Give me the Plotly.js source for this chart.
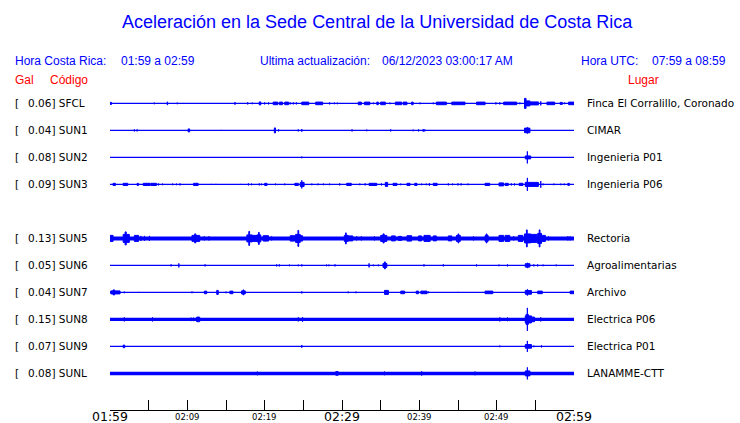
<!DOCTYPE html>
<html><head><meta charset="utf-8">
<script src="https://cdn.plot.ly/plotly-3.0.1.min.js"></script>
<style>html,body{margin:0;padding:0;background:#fff}#chart{width:740px;height:423px}</style>
</head><body><div id="chart"></div>
<script>
// ---- data ----
const codes   = ['SFCL','SUN1','SUN2','SUN3',null,'SUN5','SUN6','SUN7','SUN8','SUN9','SUNL'];
const peakGal = [0.06, 0.04, 0.08, 0.09, null, 0.13, 0.05, 0.04, 0.15, 0.07, 0.08];
const places  = ['Finca El Corralillo, Coronado','CIMAR','Ingenieria P01','Ingenieria P06',null,
                 'Rectoria','Agroalimentarias','Archivo','Electrica P06','Electrica P01','LANAMME-CTT'];
const noiseLevel = [1.2, 1.2, 1.4, 1.2, null, 4.0, 1.2, 1.2, 3.3, 1.2, 3.5];   // background amplitude (band)
const tickMinutes = [0,10,20,30,40,50,60];
const tickLabels  = ['01:59','02:09','02:19','02:29','02:39','02:49','02:59'];
const majorTick   = [true,false,false,true,false,false,true];

// bursts: [start minute, end minute, half amplitude]
const bursts_SFCL = [[0,0.2,1.5],[5.73,5.73,1.3],[7.4,7.45,2],[8.7,8.7,1.3],[16.16,16.16,1.8],[17.8,17.8,1.5],[18.4,18.4,1.3],
 [19.3,19.5,2],[20.0,20.0,1.5],[20.5,20.5,1.5],[21.1,21.7,1.8],[21.9,22.3,1.8],[22.6,23.1,1.8],[23.3,23.3,1.5],[23.7,23.7,1.5],
 [24.1,24.1,1.5],[24.8,25.7,1.8],[26.6,27.5,1.8],[28.4,28.4,1.5],[29.0,29.0,1.3],[29.4,29.4,1.3],[32.1,32.5,1.8],[32.9,33.6,1.8],
 [34.05,34.05,1.3],[34.5,34.7,1.8],[35.0,35.6,1.8],[36.2,36.2,1.3],[36.9,37.7,1.8],[37.9,38.4,1.8],[39.0,39.2,1.8],[40.1,40.1,1.3],
 [41.8,41.8,1.3],[42.2,43.5,1.8],[44.2,45.9,1.8],[47.4,48.5,1.8],[49.9,49.9,1.5],[50.4,50.4,1.5],[50.9,52.6,1.8],[53.0,53.0,1.3],
 [53.6,53.8,5.5],[53.8,54.3,3],[54.3,55.4,2],[55.7,55.7,2.5],[56.5,57.5,1.8],[58.2,58.5,1.5],[58.8,58.8,1.3],[59.3,60,1.8]];
const bursts_SUN1 = [[3.15,3.15,1.5],[3.5,3.5,1.5],[10.1,10.3,2],[14.35,14.35,1],[21.25,21.4,3],[21.8,21.8,1.5],[24.35,24.35,1.5],
 [24.8,24.8,1.8],[31.3,31.3,1.5],[33.2,33.2,1.3],[36.3,36.3,1.5],[39.2,39.2,1.3],[39.9,39.9,1.5],[40.5,40.5,1.8],[40.7,40.7,1.5],
 [53.6,54.3,2.8],[53.95,54.0,3.5]];
const bursts_SUN2 = [[24.8,24.8,1.3],[53.7,54.4,2],[53.97,53.97,6.5]];
const bursts_SUN3 = [[0.4,0.7,1.6],[1.7,2.3,1.6],[3.5,3.7,1.5],[4.3,5.2,1.6],[5.3,6.0,1.6],[6.25,6.25,1.5],[6.8,6.8,1.3],[8.1,8.1,1.3],
 [8.6,8.6,1.3],[9.05,9.05,1.5],[10.8,11.4,1.6],[13.1,13.1,1],[13.7,13.7,1],[16.9,16.9,1],[17.9,17.9,1.5],[18.3,18.3,1.3],[19.3,19.3,1.5],
 [19.6,19.6,1.3],[20.0,20.3,1.6],[21.4,21.4,1.3],[22.6,22.6,1.3],[23.9,24.35,1.6],[24.6,25.1,2.5],[24.8,24.8,4.5],[26.1,26.1,1.3],
 [26.9,26.9,1.3],[27.6,27.6,1.3],[28.4,28.4,1.3],[29.7,29.7,1.5],[30.6,31.2,1.6],[32.3,32.3,1.3],[33.0,33.0,1.5],[33.5,34.5,1.6],
 [35.1,35.1,1.5],[35.6,35.9,2.5],[36.6,37.1,1.6],[37.6,37.6,1.3],[38.4,38.8,1.6],[39.4,39.7,1.6],[40.3,40.3,1.3],[40.9,40.9,1.3],
 [41.3,41.3,1.8],[41.8,42.3,1.6],[43.75,43.75,1.5],[44.3,44.3,1.3],[45.0,45.0,1.5],[45.4,45.4,1.5],[46.3,46.3,1.3],[48.5,49.1,1.6],
 [50.3,50.9,2],[51.1,51.5,1.6],[51.9,51.9,1.5],[52.3,52.3,1.5],[52.9,53.4,1.6],[53.7,55.4,2.5],[53.97,53.97,7],[55.7,55.7,3.8],
 [56.0,56.0,1.3],[57.4,57.4,1.3],[58.3,58.3,1.3],[58.75,58.75,1.3],[59.2,59.4,1.5]];
const bursts_SUN5 = [[0,0.4,3.5],[1.7,2.5,4.5],[1.95,2.1,7],[3.15,3.7,3.5],[4.0,4.0,3],[4.45,4.45,3],[5.1,5.1,3],[10.6,11.6,3.5],
 [10.95,11.1,5],[12.2,12.2,2.5],[12.8,12.8,2.5],[17.7,18.4,4],[17.95,18.05,7.5],[18.4,19.0,3.5],[19.0,19.5,4],[19.2,19.3,6.5],
 [19.8,20.5,3.2],[20.9,20.9,2.5],[23.3,23.9,3.2],[24.0,24.6,4.5],[24.3,24.4,8.5],[24.6,24.9,3.2],[30.3,30.8,3.5],[30.45,30.55,6],
 [30.8,31.4,3],[31.9,31.9,2.5],[32.5,32.5,2.5],[34.2,34.2,2.5],[35.0,35.8,3.5],[35.3,35.45,5],[36.4,36.9,3],[37.3,37.7,2.5],
 [38.4,39.0,3.2],[39.9,40.3,3],[40.6,41.4,3.5],[41.8,42.2,3],[43.75,44.2,3],[44.8,45.3,3.5],[45.0,45.1,5],[47.0,47.0,2.5],
 [48.5,48.9,3.5],[48.65,48.75,5],[50.3,50.9,3.5],[51.1,51.7,3.5],[52.2,52.2,2.5],[52.8,53.4,3.5],[53.6,54.4,5],[53.85,53.95,9],
 [54.4,55.2,4.5],[55.3,55.8,5.5],[55.5,55.6,9],[55.8,56.3,3.5],[56.7,56.7,2.5],[59.2,59.2,2.5],[59.5,59.5,2.5]];
const bursts_SUN6 = [[7.9,7.9,1.5],[8.9,8.9,2.5],[12.3,12.3,1.5],[21.55,21.55,1.5],[21.9,21.9,1.5],[23.2,23.2,1.3],[24.35,24.35,1.3],
 [24.8,24.8,1.5],[28.0,28.0,1.3],[28.3,28.3,1.3],[29.1,29.1,1.5],[33.5,33.5,2.5],[34.05,34.05,1.3],[34.7,34.7,1.3],[35.3,35.8,2.5],
 [35.5,35.6,4],[40.6,40.6,1.5],[43.1,43.1,1.5],[47.4,47.4,1.5],[50.3,50.3,1.3],[51.4,51.4,1.5],[53.7,54.3,2.2],[53.95,54.0,3],
 [54.8,54.8,1.5],[55.3,55.3,1.5],[56.0,56.0,1.3],[57.7,57.7,1.3]];
const bursts_SUN7 = [[0.1,1.3,2],[0.4,0.6,3],[1.85,1.85,1.3],[3.7,3.7,1],[10.6,10.6,1.3],[10.8,10.8,1],[12.2,12.5,1.8],[13.8,14.0,2.5],
 [15.0,15.0,1.3],[15.5,15.9,1.8],[17.0,17.5,2],[17.2,17.3,3],[24.8,24.8,1.5],[30.8,30.8,1.3],[31.8,31.8,1.3],[35.5,36.0,2.5],
 [37.6,38.1,1.8],[39.6,39.9,1.8],[40.2,41.0,1.8],[41.2,41.2,1.3],[45.0,45.0,1],[48.5,49.5,1.8],[53.7,54.5,2.3],[53.95,54.0,3.5],
 [55.3,55.9,1.8],[59.5,60,1.8]];
const bursts_SUN8 = [[1.85,1.85,2.5],[5.5,5.5,2.5],[10.5,10.5,2.2],[10.8,10.8,2.2],[11.2,11.6,2.8],[24.35,24.35,2.5],[24.9,24.9,2.8],
 [50.4,50.4,2.5],[51.4,51.4,2.3],[53.7,54.5,4],[53.8,54.1,5.5],[53.97,53.97,12],[54.5,54.9,2.8],[55.7,55.7,2.5]];
const bursts_SUN9 = [[1.7,1.9,1.8],[24.8,24.8,1.8],[50.4,50.4,1.3],[53.7,54.5,2.3],[53.97,53.97,6],[54.8,54.8,1.3],[55.8,55.8,1.5]];
const bursts_SUNL = [[19.05,19.05,2.3],[29.2,29.5,2.3],[35.5,35.5,2.3],[40.3,40.3,2.6],[47.2,47.2,2.3],[53.7,54.3,3],[53.97,53.97,6.5]];

const bursts = {SFCL:bursts_SFCL, SUN1:bursts_SUN1, SUN2:bursts_SUN2, SUN3:bursts_SUN3, SUN5:bursts_SUN5,
                SUN6:bursts_SUN6, SUN7:bursts_SUN7, SUN8:bursts_SUN8, SUN9:bursts_SUN9, SUNL:bursts_SUNL};

// ---- layout geometry (pixels) ----
const W = 740, H = 423;
const M = {l:110, r:166, t:88, b:13};
const rowPx0 = 103.4, rowStep = 27;            // pixel centre of first row, spacing
const plotW = W - M.l - M.r, plotH = H - M.t - M.b;
const yTop = (M.t - rowPx0) / rowStep, yBot = (H - M.b - rowPx0) / rowStep;
const px2x = px => (px - M.l) / plotW;
const px2y = py => (H - M.b - py) / plotH;
const BLUE = '#0000ff';

const traces = [];
const annotations = [];
codes.forEach((code, i) => {
  if (!code) return;
  traces.push({x:[0,60], y:[i,i], mode:'lines', line:{color:BLUE, width:noiseLevel[i]},
               hoverinfo:'skip', showlegend:false});
  const xs = [], ys = [];
  bursts[code].forEach(([s,e,a]) => {
    const d = Math.max(a - 0.5, 0.3) / rowStep;
    xs.push(s, e, e, s, s, null);
    ys.push(i - d, i - d, i + d, i + d, i - d, null);
  });
  traces.push({x:xs, y:ys, mode:'lines', fill:'toself', fillcolor:BLUE,
               line:{color:BLUE, width:1}, hoverinfo:'skip', showlegend:false});
  const yc = px2y(rowPx0 + rowStep * i);
  const lf = {family:'DejaVu Sans', size:10.5, color:'#000'};
  annotations.push({xref:'paper', yref:'paper', x:px2x(15), y:yc, xanchor:'left', yanchor:'middle',
                    text:'[', showarrow:false, font:lf, borderpad:0, borderwidth:0});
  annotations.push({xref:'paper', yref:'paper', x:px2x(27.5), y:yc, xanchor:'left', yanchor:'middle',
                    text:peakGal[i].toFixed(2) + '] ' + code, showarrow:false, font:lf, borderpad:0, borderwidth:0});
  annotations.push({xref:'paper', yref:'paper', x:px2x(587), y:yc, xanchor:'left', yanchor:'middle',
                    text:places[i], showarrow:false, font:lf, borderpad:0, borderwidth:0});
});

// time axis labels
tickMinutes.forEach((m, k) => {
  annotations.push({xref:'x', yref:'paper', x:m, y:px2y(majorTick[k] ? 416.5 : 417), xanchor:'center', yanchor:'middle',
    text:tickLabels[k], showarrow:false, borderpad:0, borderwidth:0,
    font:{family:'DejaVu Sans', size: majorTick[k] ? 12.5 : 8.5, color:'#000'}});
});

// header texts
const hf = {family:'Liberation Sans, Arial, sans-serif', size:12, color:BLUE};
const rf = {family:'Liberation Sans, Arial, sans-serif', size:12, color:'#ff0000'};
const addText = (txt, px, py, font, anchor) => annotations.push({xref:'paper', yref:'paper', x:px2x(px), y:px2y(py),
  xanchor:anchor||'left', yanchor:'middle', text:txt, showarrow:false, font:font, borderpad:0, borderwidth:0});
addText('Aceleración en la Sede Central de la Universidad de Costa Rica', 377.5, 22,
        {family:'Liberation Sans, Arial, sans-serif', size:18, color:BLUE}, 'center');
addText('Hora Costa Rica:', 15, 61, hf);
addText('01:59 a 02:59', 121, 61, hf);
addText('Ultima actualización:', 260, 61, hf);
addText('06/12/2023 03:00:17 AM', 382, 61, hf);
addText('Hora UTC:', 581, 61, hf);
addText('07:59 a 08:59', 652, 61, hf);
addText('Gal', 15, 80, rf);
addText('Código', 50, 80, rf);
addText('Lugar', 628, 80, rf);

const layout = {
  width:W, height:H, margin:M, paper_bgcolor:'#fff', plot_bgcolor:'#fff', showlegend:false,
  xaxis:{range:[0,60], showgrid:false, zeroline:false, showline:true, linecolor:'#000', linewidth:1,
         ticks:'inside', ticklen:10, tickwidth:1, tickcolor:'#000', tick0:0, dtick:5,
         showticklabels:false, fixedrange:true},
  yaxis:{range:[yBot, yTop], visible:false, fixedrange:true},
  annotations:annotations
};
Plotly.newPlot('chart', traces, layout, {staticPlot:true, displayModeBar:false});
</script></body></html>
